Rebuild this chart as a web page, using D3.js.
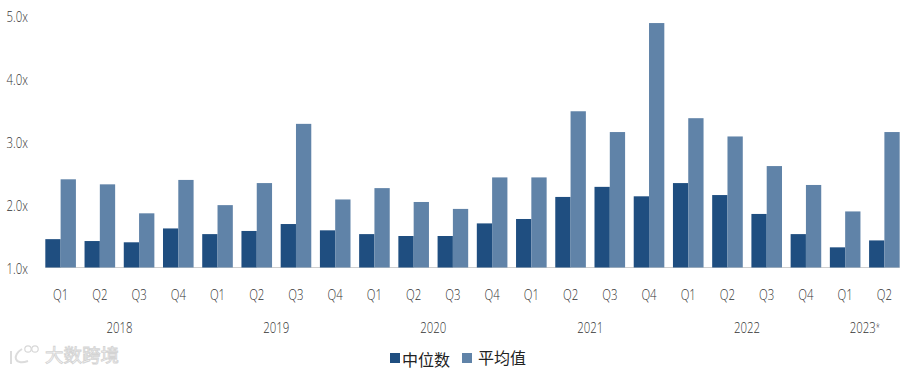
<!DOCTYPE html>
<html lang="zh">
<head>
<meta charset="utf-8">
<title>中位数 平均值</title>
<script src="https://cdnjs.cloudflare.com/ajax/libs/d3/7.8.5/d3.min.js"></script>
<style>
 html, body { margin: 0; padding: 0; background: #fff; }
 svg { display: block; }
 text { font-family: "Open Sans", sans-serif; font-weight: 300; fill: #333; }
 .legend text, .mark text { font-family: "Noto Sans CJK SC", sans-serif; font-weight: 400; }
</style>
</head>
<body>
<svg id="chart" width="906" height="373"></svg>
<script>
var quarters = ["Q1","Q2","Q3","Q4","Q1","Q2","Q3","Q4","Q1","Q2","Q3","Q4","Q1","Q2","Q3","Q4","Q1","Q2","Q3","Q4","Q1","Q2"];
var years = ["2018","2019","2020","2021","2022","2023"];
var yearSpans = [[0,3],[4,7],[8,11],[12,15],[16,19],[20,21]];
var median = [1.45,1.42,1.40,1.62,1.53,1.58,1.69,1.59,1.53,1.50,1.50,1.70,1.77,2.12,2.28,2.13,2.34,2.15,1.85,1.53,1.32,1.43];
var mean = [2.40,2.32,1.86,2.39,1.99,2.34,3.28,2.08,2.26,2.04,1.93,2.43,2.43,3.48,3.15,4.88,3.37,3.08,2.61,2.31,1.89,3.15];
var yTicks = [1,2,3,4,5];
var seriesNames = ["中位数","平均值"];
var colors = ["#1f4e80","#6083a8"];

var svg = d3.select("#chart");
var idx = d3.range(quarters.length);

var x = d3.scaleBand().domain(idx).range([41, 904]).paddingInner(0.22).paddingOuter(0.11);
var x1 = d3.scaleBand().domain([0, 1]).range([0, x.bandwidth()]);
var y = d3.scaleLinear().domain([1, 5]).range([267.5, 15.5]);

// the original font is condensed, squeeze the glyphs to fit
function squeeze(sel) {
    sel.each(function() {
        this.setAttribute("textLength", this.getComputedTextLength() * 0.76);
        this.setAttribute("lengthAdjust", "spacingAndGlyphs");
    });
}

// baseline
svg.append("line")
    .attr("x1", x(0)).attr("x2", x(21) + x.bandwidth())
    .attr("y1", y(1)).attr("y2", y(1))
    .attr("stroke", "#cfcfcf").attr("stroke-width", 1);

// bars
[median, mean].forEach(function(vals, s) {
    svg.append("g").selectAll("rect").data(vals).enter().append("rect")
        .attr("x", function(d, i) { return x(i) + x1(s); })
        .attr("y", function(d) { return y(d); })
        .attr("width", x1.bandwidth())
        .attr("height", function(d) { return y(1) - y(d); })
        .attr("fill", colors[s]);
});

// y axis
var yAxis = svg.append("g").attr("transform", "translate(28,0)")
    .call(d3.axisLeft(y).tickValues(yTicks).tickSize(0).tickPadding(0)
        .tickFormat(function(d) { return d.toFixed(1) + "x"; }));
yAxis.select(".domain").remove();
yAxis.selectAll("text").attr("font-size", 15).attr("dy", "0.42em")
    .style("font-family", null).call(squeeze);

// quarter labels
var xAxis = svg.append("g").attr("transform", "translate(0,268)")
    .call(d3.axisBottom(x).tickSize(0).tickPadding(0)
        .tickFormat(function(d) { return quarters[d]; }));
xAxis.select(".domain").remove();
xAxis.selectAll("text").attr("font-size", 15).attr("y", 32).attr("dy", 0).call(squeeze);

// year labels
var yearLabels = svg.append("g").selectAll("text").data(years).enter().append("text")
    .attr("x", function(d, i) {
        var sp = yearSpans[i];
        return (x(sp[0]) + x(sp[1]) + x.bandwidth()) / 2;
    })
    .attr("y", 333)
    .attr("text-anchor", "middle")
    .attr("font-size", 15)
    .text(function(d) { return d; });
yearLabels.filter(function(d) { return d === "2023"; })
    .append("tspan").attr("font-size", 10).attr("dy", -2).text("*");
yearLabels.call(squeeze);

// legend
var legend = svg.append("g").attr("class", "legend");
var legendX = [390, 462], textX = [402, 478], textY = [366, 364];
seriesNames.forEach(function(name, i) {
    legend.append("rect").attr("x", legendX[i]).attr("y", 353)
        .attr("width", 10).attr("height", 10).attr("fill", colors[i]);
    legend.append("text").attr("x", textX[i]).attr("y", textY[i])
        .attr("font-size", 16).style("fill", "#222").text(name);
});

// watermark
var mark = svg.append("g").attr("class", "mark");
mark.append("text").attr("x", 45).attr("y", 362).attr("font-size", 18.5)
    .style("fill", "#fff").style("stroke", "#d4d4d4").style("stroke-width", 0.9)
    .text("大数跨境");
mark.append("path").attr("d", "M11 351 V364 M22 349 C12 355 14 366 28 361")
    .attr("fill", "none").attr("stroke", "#dcdcdc").attr("stroke-width", 2);
mark.selectAll("circle").data([28, 35]).enter().append("circle")
    .attr("cx", function(d) { return d; }).attr("cy", 349).attr("r", 3.2)
    .attr("fill", "none").attr("stroke", "#d8d8d8").attr("stroke-width", 1.2);
</script>
</body>
</html>
